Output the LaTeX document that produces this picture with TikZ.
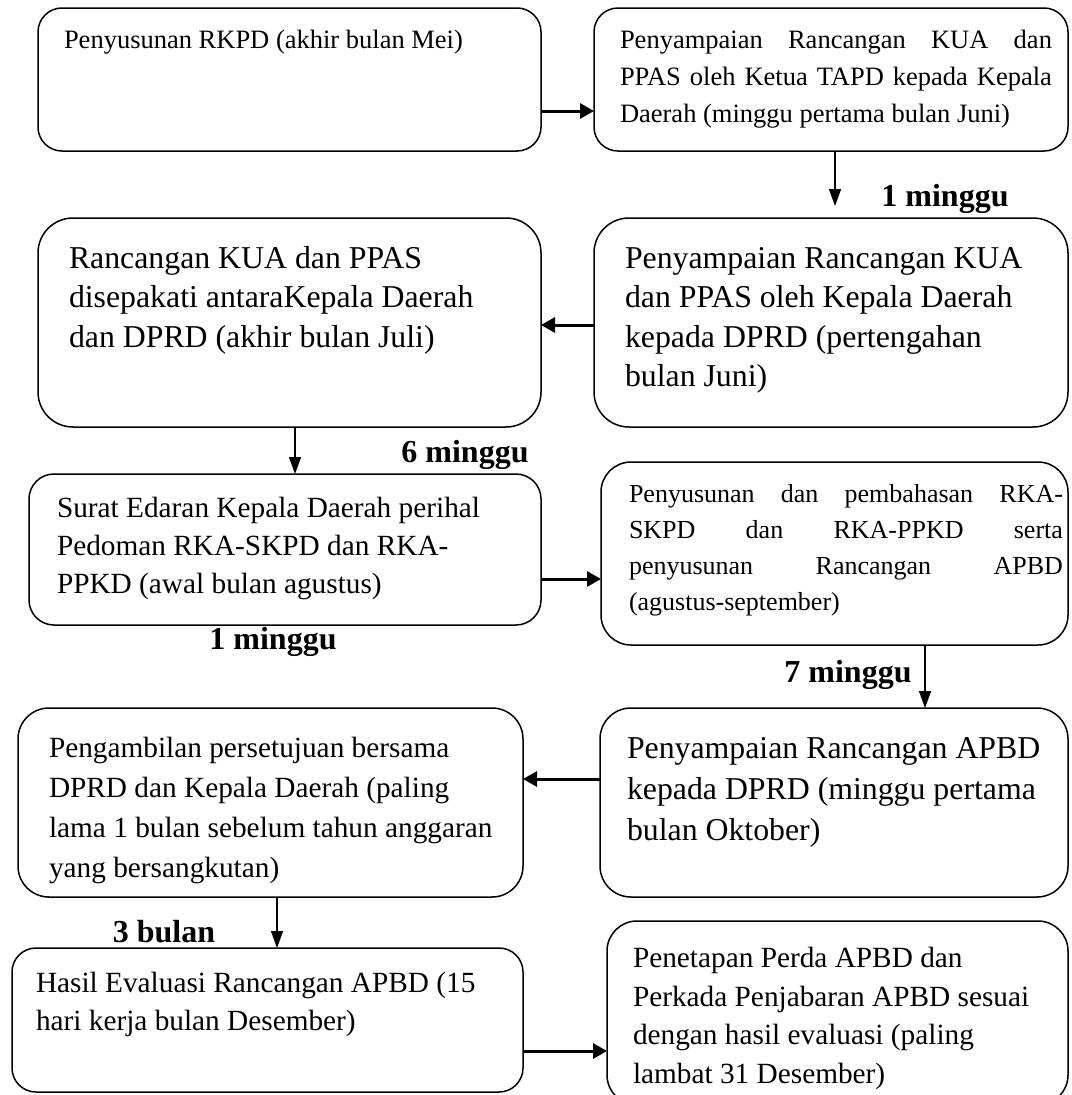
\documentclass[tikz,border=0pt]{standalone}
\usepackage{fontspec}
\setmainfont{Liberation Serif}
\usetikzlibrary{arrows.meta}
\newcommand{\fsmall}{\fontsize{26.5}{37}\selectfont}
\newcommand{\fsmallb}{\fontsize{26}{35.7}\selectfont}
\newcommand{\fmed}{\fontsize{29.3}{38.3}\selectfont}
\newcommand{\fmedb}{\fontsize{29.3}{40}\selectfont}
\newcommand{\fmedc}{\fontsize{29.3}{38.5}\selectfont}
\newcommand{\flarge}{\fontsize{31.8}{39.5}\selectfont}
\newcommand{\flargeb}{\fontsize{31.8}{41}\selectfont}
\begin{document}
\begin{tikzpicture}[x=1pt,y=-1pt,
  box/.style={draw, line width=1.5pt, inner sep=0pt, outer sep=0pt},
  txt/.style={inner sep=0pt, outer sep=0pt, anchor=north west, align=left},
  lbl/.style={inner sep=0pt, font=\fontsize{32}{38}\selectfont\bfseries},
  harrow/.style={line width=3pt, -{Triangle[length=14pt,width=15pt]}},
  varrow/.style={line width=1.5pt, -{Triangle[length=17pt,width=12pt]}}]
\useasboundingbox (0,0) rectangle (1071,1095);
\fill[white] (0,0) rectangle (1071,1095);
\clip (0,0) rectangle (1071,1095);

% boxes
\node[box, minimum width=503, minimum height=143, rounded corners=24] (b1) at (289.5,79.5) {};
\node[box, minimum width=474, minimum height=143, rounded corners=24] (b2) at (831,79.5) {};
\node[box, minimum width=503, minimum height=209, rounded corners=35] (b3) at (289.5,322.5) {};
\node[box, minimum width=474, minimum height=209, rounded corners=35] (b4) at (831,322.5) {};
\node[box, minimum width=512, minimum height=151, rounded corners=25] (b5) at (285,549.5) {};
\node[box, minimum width=467, minimum height=183, rounded corners=30] (b6) at (834.5,553.5) {};
\node[box, minimum width=505, minimum height=189, rounded corners=31] (b7) at (270.5,802.5) {};
\node[box, minimum width=468, minimum height=189, rounded corners=31] (b8) at (834,802.5) {};
\node[box, minimum width=511, minimum height=144, rounded corners=24] (b9) at (267.5,1020) {};
\node[box, minimum width=461, minimum height=184, rounded corners=30] (b10) at (837.5,1013) {};

% texts
\node[txt, font=\fsmall] (t1) at (64,22.1) {\strut Penyusunan RKPD (akhir bulan Mei)};
\node[txt, font=\fsmall] (t2) at (620,22.1) {\strut\makebox[432pt][s]{Penyampaian Rancangan KUA dan}\\
\makebox[432pt][s]{PPAS oleh Ketua TAPD kepada Kepala}\\
Daerah (minggu pertama bulan Juni)};
\node[txt, font=\flarge] (t3) at (69,240.4) {\strut Rancangan KUA dan PPAS\\disepakati antaraKepala Daerah\\dan DPRD (akhir bulan Juli)};
\node[txt, font=\flarge] (t4) at (625,240.4) {\strut Penyampaian Rancangan KUA\\dan PPAS oleh Kepala Daerah\\kepada DPRD (pertengahan\\bulan Juni)};
\node[txt, font=\fmed] (t5) at (57,490.2) {\strut Surat Edaran Kepala Daerah perihal\\Pedoman RKA-SKPD dan RKA-\\PPKD (awal bulan agustus)};
\node[txt, font=\fsmallb] (t6) at (629,478) {\strut\makebox[434pt][s]{Penyusunan dan pembahasan RKA-}\\
\makebox[434pt][s]{SKPD dan RKA-PPKD serta}\\
\makebox[434pt][s]{penyusunan Rancangan APBD}\\
(agustus-september)};
\node[txt, font=\fmedb] (t7) at (49,729) {\strut Pengambilan persetujuan bersama\\DPRD dan Kepala Daerah (paling\\lama 1 bulan sebelum tahun anggaran\\yang bersangkutan)};
\node[txt, font=\flargeb] (t8) at (627,729.3) {\strut Penyampaian Rancangan APBD\\kepada DPRD (minggu pertama\\bulan Oktober)};
\node[txt, font=\fmed] (t9) at (36,965.2) {\strut Hasil Evaluasi Rancangan APBD (15\\hari kerja bulan Desember)};
\node[txt, font=\fmedc] (t10) at (633,941) {\strut Penetapan Perda APBD dan\\Perkada Penjabaran APBD sesuai\\dengan hasil evaluasi (paling\\lambat 31 Desember)};

% labels
\node[lbl] (l1) at (945,199) {1 minggu};
\node[lbl] (l2) at (465,455) {6 minggu};
\node[lbl] (l3) at (273,642) {1 minggu};
\node[lbl] (l4) at (848,675) {7 minggu};
\node[lbl] (l5) at (164,932) {3 bulan};

% connectors
\coordinate (e1) at (835,206);
\draw[harrow] (b1.east |- 0,111) -- (b2.west |- 0,111);
\draw[varrow] (b2.south -| 835,0) -- (e1);
\draw[harrow] (b4.west |- 0,325) -- (b3.east |- 0,325);
\draw[varrow] (b3.south -| 295,0) -- (b5.north -| 295,0);
\draw[harrow] (b5.east |- 0,579) -- (b6.west |- 0,579);
\draw[varrow] (b6.south -| 925,0) -- (b8.north -| 925,0);
\draw[harrow] (b8.west |- 0,779) -- (b7.east |- 0,779);
\draw[varrow] (b7.south -| 277,0) -- (b9.north -| 277,0);
\draw[harrow] (b9.east |- 0,1051) -- (b10.west |- 0,1051);
\end{tikzpicture}
\end{document}
